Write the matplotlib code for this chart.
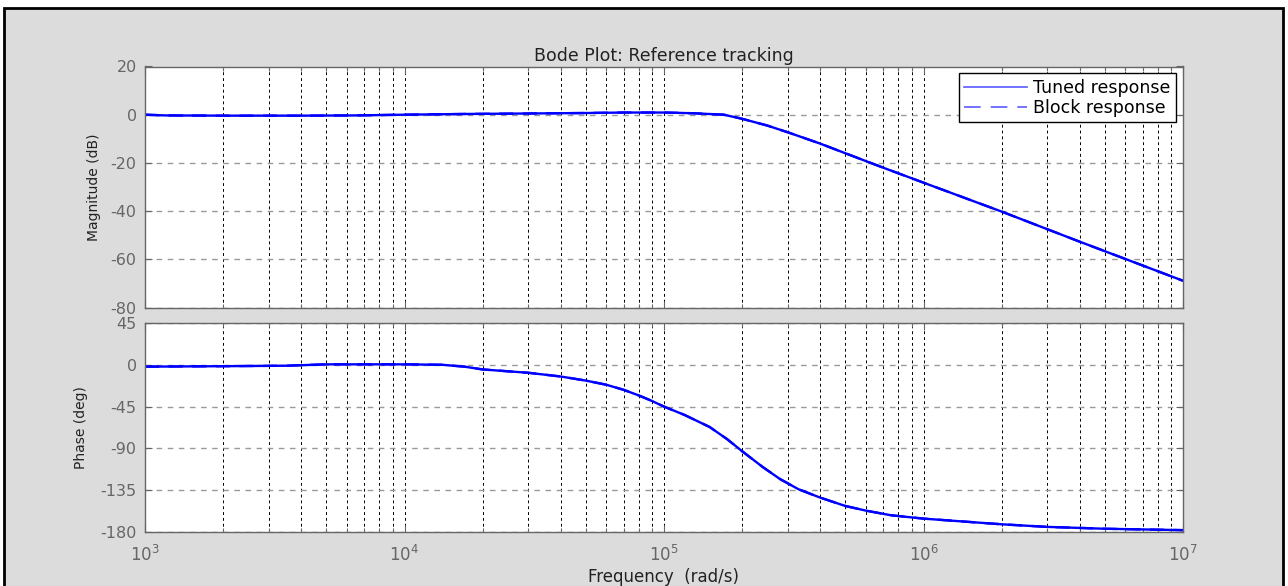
import matplotlib
matplotlib.use("Agg")
from matplotlib import pyplot as plt
from matplotlib.patches import Rectangle
from matplotlib.ticker import LogLocator, NullFormatter

# data
freq_mag = [1e3, 1.2e3, 2e3, 4e3, 6.5e3, 1e4, 1.7e4, 3e4, 5e4, 7e4, 1e5, 1.3e5, 1.7e5,
            2e5, 2.5e5, 3e5, 4e5, 5e5, 7e5, 1e6, 2e6, 4e6, 1e7]
mag_db = [0, -0.3, -0.4, -0.4, -0.3, 0, 0.3, 0.5, 0.7, 0.9, 0.9, 0.6, 0,
          -1.7, -4.5, -7.3, -12, -16, -22, -28.2, -40.2, -52.7, -68.9]

freq_ph = [1e3, 2e3, 3.5e3, 5e3, 1e4, 1.4e4, 1.7e4, 2e4, 3e4, 4e4, 5e4, 6e4, 7e4, 8e4,
           9e4, 1e5, 1.2e5, 1.5e5, 1.75e5, 2e5, 2.4e5, 2.8e5, 3.3e5, 4e5, 5e5, 6e5,
           7.5e5, 1e6, 2e6, 3e6, 5e6, 1e7]
phase_deg = [-2, -1.5, -1, 0.5, 0.5, 0, -2, -5, -8.6, -12.6, -17, -21.5, -27, -33,
             -39, -45, -54, -67, -80, -93, -110, -123, -134, -143, -152, -157,
             -162, -165.6, -171.7, -174.5, -176.5, -178]

mag_ticks = [20, 0, -20, -40, -60, -80]
phase_ticks = [45, 0, -45, -90, -135, -180]
series_names = ["Tuned response", "Block response"]

plt.rcParams["font.family"] = ["DejaVu Sans"]
plt.rcParams["axes.unicode_minus"] = False

W, H = 1288, 586
fig = plt.figure(figsize=(W / 100, H / 100), dpi=100, facecolor="white")

# grey panel with black frame (bottom edge runs off the picture)
fig.add_artist(Rectangle((4 / W, -0.02), 1279 / W, 1.02 - 8 / H, transform=fig.transFigure,
                         facecolor="#dcdcdc", edgecolor="black", linewidth=2, zorder=-5))

left, right = 145, 1183
ax1 = fig.add_axes([left / W, 1 - 307.5 / H, (right - left) / W, 241 / H])
ax2 = fig.add_axes([left / W, 1 - 532 / H, (right - left) / W, 209 / H])

blue = (0, 0, 1)
for ax, f, v in [(ax1, freq_mag, mag_db), (ax2, freq_ph, phase_deg)]:
    ax.plot(f, v, color=blue, lw=1.7, label=series_names[0])
    ax.plot(f, v, color=blue, lw=1.7, ls=(0, (6, 4)), label=series_names[1])
    ax.set_xscale("log")
    ax.set_xlim(1e3, 1e7)
    ax.set_facecolor("white")
    ax.xaxis.set_major_locator(LogLocator(base=10, numticks=10))
    ax.xaxis.set_minor_locator(LogLocator(base=10, subs=range(2, 10), numticks=100))
    ax.xaxis.set_minor_formatter(NullFormatter())
    ax.grid(True, which="both", axis="x", color="black", lw=0.7, ls=(0, (3, 3)))
    ax.grid(True, which="major", axis="y", color="#999999", lw=1, ls=(0, (4, 4)))
    ax.set_axisbelow(True)
    ax.tick_params(which="both", direction="in", top=True, right=True, colors="#666666",
                   labelsize=11.5, width=0.8, pad=6)
    ax.tick_params(which="major", length=5)
    ax.tick_params(which="minor", length=3)
    for s in ax.spines.values():
        s.set_color("#666666")
        s.set_linewidth(1)

ax1.set_ylim(-80, 20)
ax1.set_yticks(mag_ticks)
ax1.tick_params(labelbottom=False)
ax1.set_title("Bode Plot: Reference tracking", fontsize=12.5, color="#222222", pad=4)
ax1.set_ylabel("Magnitude (dB)", fontsize=10, color="#222222")
ax1.yaxis.set_label_coords(-0.0424, 0.5)

ax2.set_ylim(-180, 45)
ax2.set_yticks(phase_ticks)
ax2.set_ylabel("Phase (deg)", fontsize=10, color="#222222")
ax2.yaxis.set_label_coords(-0.0549, 0.5)
ax2.tick_params(axis="x", labelsize=12, pad=9)

# x label sits low, near the frame
fig.text((left + right) / 2 / W, 1 - 577 / H, "Frequency  (rad/s)", fontsize=12,
         color="#222222", ha="center", va="center")

leg = ax1.legend(loc="upper right", fontsize=12.5, handlelength=3.6, handletextpad=0.4,
                 fancybox=False, framealpha=1, edgecolor="black", borderaxespad=0.4,
                 labelspacing=0.15, borderpad=0.3)
leg.get_frame().set_linewidth(1)
for line in leg.get_lines():
    line.set_linewidth(1.2)
    line.set_color("#5a5aff")
leg.get_lines()[1].set_linestyle((0, (10, 6)))

fig.savefig("out.png", dpi=100, facecolor="white")
